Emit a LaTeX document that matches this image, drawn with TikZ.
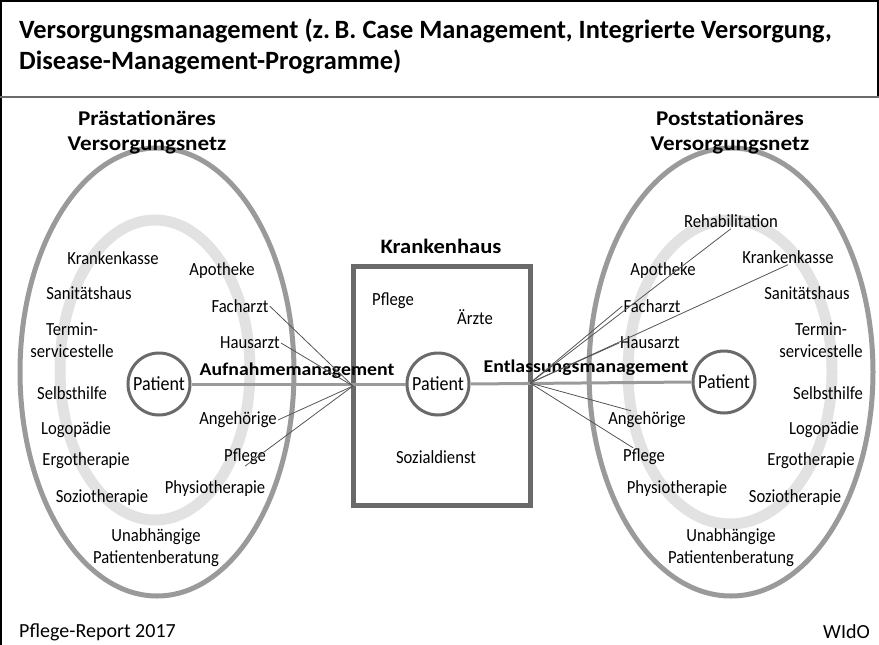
\documentclass[tikz,border=0pt]{standalone}
\usepackage{fontspec}
\setmainfont{Carlito}
\newfontfamily\schmal{Carlito}[FakeStretch=0.9]
\newfontfamily\breit{Carlito}[FakeStretch=1.1]
\usetikzlibrary{calc}

\definecolor{ringgray}{HTML}{9A9A9A}
\definecolor{halogray}{HTML}{E2E2E2}
\definecolor{boxgray}{HTML}{6A6A6A}
\definecolor{linegray}{HTML}{555555}

\tikzset{
	netz/.style={draw=ringgray, line width=5pt},
	halo/.style={draw=halogray, line width=11pt},
	lbl/.style={font=\schmal\fontsize{18.5}{22}\selectfont, inner sep=1pt, align=center},
	kopf/.style={font=\breit\bfseries\fontsize{21}{25}\selectfont, align=center, inner sep=0pt},
	mgmt/.style={font=\breit\bfseries\fontsize{18}{22}\selectfont, inner sep=0pt},
	patient/.style={circle, draw=boxgray, line width=3pt, minimum size=62pt, inner sep=0pt, font=\schmal\fontsize{20}{22}\selectfont},
	weg/.style={draw=ringgray, line width=3pt},
	verbindung/.style={draw=linegray, line width=0.8pt},
}

\begin{document}
\begin{tikzpicture}[x=1pt, y=-1pt]
		\useasboundingbox (0,0) rectangle (879,645);
		%%%%% frame and title %%%%%
		\draw[black, line width=1.5pt] (1,645) -- (1,1) -- (878,1) -- (878,97);
		\draw[boxgray, line width=2.5pt] (0,97) -- (879,97);
		\node[anchor=north west, align=left, inner sep=0pt, font=\bfseries\fontsize{26.4}{31}\selectfont] (titel) at (19,19)
			{Versorgungsmanagement (z.\,B. Case Management, Integrierte Versorgung,\\Disease-Management-Programme)};
		
		%%%%% networks %%%%%
		\draw[halo] (155,370) ellipse [x radius=95, y radius=150];
		\draw[netz] (157,372) ellipse [x radius=137, y radius=224];
		\draw[halo] (730,372) ellipse [x radius=102, y radius=152];
		\draw[netz] (731,372) ellipse [x radius=142, y radius=224];
		
		\node[kopf] (prae) at (147,132) {Prästationäres\\Versorgungsnetz};
		\node[kopf] (post) at (730,132) {Poststationäres\\Versorgungsnetz};
		
		%%%%% hospital %%%%%
		\node[kopf, font=\breit\bfseries\fontsize{20.5}{25}\selectfont] (kh) at (441,246) {Krankenhaus};
		\draw[boxgray, line width=5pt] (353,266) rectangle (530,505);
		\coordinate (aufn) at (353,386);
		\coordinate (entl) at (530,383);
		
		\node[lbl] (khpfl) at (393,301) {Pflege};
		\node[lbl] (khaer) at (475,317) {Ärzte};
		\node[lbl] (khsoz) at (436,457) {Sozialdienst};
		
		%%%%% patients %%%%%
		\node[patient] (lpat) at (159,384) {Patient};
		\node[patient] (mpat) at (438,384) {Patient};
		\node[patient] (rpat) at (724,382) {Patient};
		\draw[weg] (lpat.east) -- (mpat.west);
		\draw[weg] (mpat.east) -- (rpat.west);
		
		\node[mgmt] (aufnt) at (297,371) {Aufnahmemanagement};
		\node[mgmt] (entlt) at (586,368) {Entlassungsmanagement};
		
		%%%%% left network %%%%%
		\node[lbl] (lkk) at (113,258) {Krankenkasse};
		\node[lbl] (lapo) at (222,271) {Apotheke};
		\node[lbl] (lsan) at (89,293) {Sanitätshaus};
		\node[lbl] (lfach) at (240,306) {Facharzt};
		\node[lbl] (lterm) at (72,340) {Termin-\\servicestelle};
		\node[lbl] (lhaus) at (250,343) {Hausarzt};
		\node[lbl] (lselb) at (72,393) {Selbsthilfe};
		\node[lbl] (lang) at (238,420) {Angehörige};
		\node[lbl] (llogo) at (76,430) {Logopädie};
		\node[lbl] (lpfl) at (245,457) {Pflege};
		\node[lbl] (lergo) at (86,461) {Ergotherapie};
		\node[lbl] (lphys) at (215,489) {Physiotherapie};
		\node[lbl] (lsozi) at (102,498) {Soziotherapie};
		\node[lbl] (lupb) at (156,548) {Unabhängige\\Patientenberatung};
		
		\draw[verbindung] (aufn) -- (lfach.east);
		\draw[verbindung] (aufn) -- (lhaus.east);
		\draw[verbindung] (aufn) -- (lang.east);
		\draw[verbindung] (aufn) -- (lpfl.south);
		
		%%%%% right network %%%%%
		\node[lbl] (rreha) at (731,221) {Rehabilitation};
		\node[lbl] (rkk) at (788,257) {Krankenkasse};
		\node[lbl] (rapo) at (663,271) {Apotheke};
		\node[lbl] (rsan) at (807,293) {Sanitätshaus};
		\node[lbl] (rfach) at (652,306) {Facharzt};
		\node[lbl] (rterm) at (821,340) {Termin-\\servicestelle};
		\node[lbl] (rhaus) at (650,343) {Hausarzt};
		\node[lbl] (rselb) at (828,393) {Selbsthilfe};
		\node[lbl] (rang) at (647,420) {Angehörige};
		\node[lbl] (rlogo) at (824,430) {Logopädie};
		\node[lbl] (rpfl) at (644,457) {Pflege};
		\node[lbl] (rergo) at (811,461) {Ergotherapie};
		\node[lbl] (rphys) at (677,489) {Physiotherapie};
		\node[lbl] (rsozi) at (795,498) {Soziotherapie};
		\node[lbl] (rupb) at (731,548) {Unabhängige\\Patientenberatung};
		
		\draw[verbindung] (entl) -- (rreha.south);
		\draw[verbindung] (entl) -- (rkk.south);
		\draw[verbindung] (entl) -- (rfach.west);
		\draw[verbindung] (entl) -- (rhaus.west);
		\draw[verbindung] (entl) -- (rang.150);
		\draw[verbindung] (entl) -- (rpfl.140);
		
		%%%%% footer %%%%%
		\node[anchor=west, inner sep=0pt, font=\fontsize{20}{24}\selectfont] (quelle) at (19,632) {Pflege-Report 2017};
		\node[anchor=east, inner sep=0pt, font=\fontsize{20}{24}\selectfont] (wido) at (870,632) {WIdO};
		%%%%% END %%%%%
	\end{tikzpicture}
\end{document}
